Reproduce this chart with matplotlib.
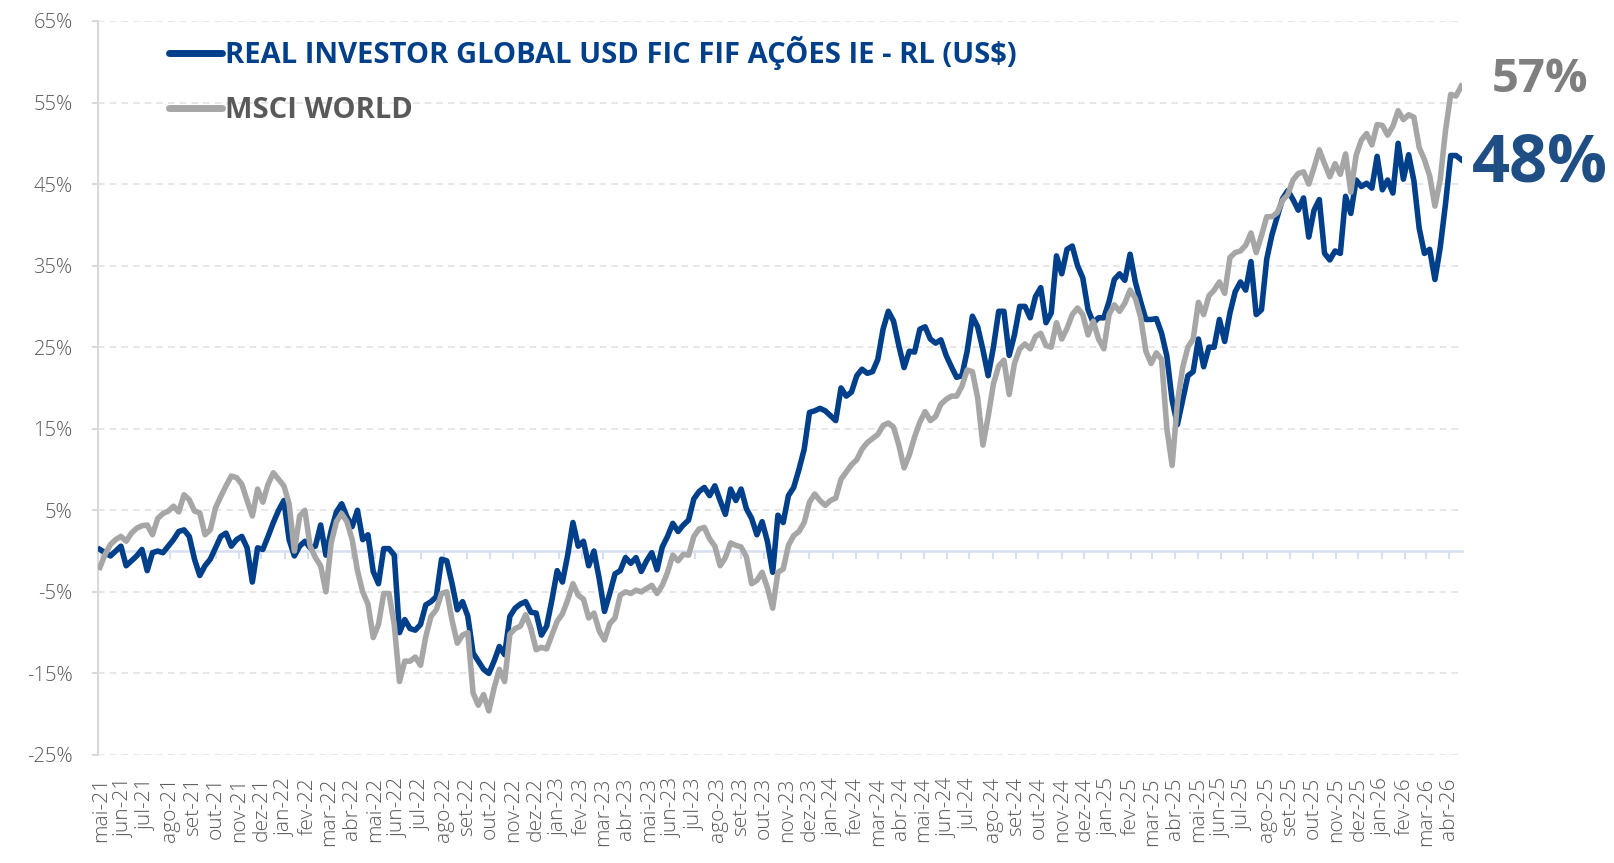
import numpy as np
import pandas as pd
import matplotlib
matplotlib.use("Agg")
import matplotlib.pyplot as plt
from matplotlib.lines import Line2D

# Rentabilidade acumulada (%), leituras semanais de 30/04/2021 a 17/04/2026
fundo = [
    0.2, -0.2, -0.6, 0.0, 0.6, -1.8, -1.2, -0.6, 0.2, -2.4,
    -0.2, 0.0, -0.2, 0.6, 1.4, 2.4, 2.6, 1.8, -1.0, -3.0,
    -1.8, -1.0, 0.4, 1.8, 2.2, 0.6, 1.4, 1.8, 0.4, -3.8,
    0.4, 0.2, 1.8, 3.5, 5.0, 6.2, 1.4, -0.6, 0.6, 1.2,
    0.4, 0.6, 3.2, -0.5, 2.5, 4.8, 5.8, 4.2, 3.0, 5.0,
    1.4, 2.0, -2.5, -4.0, 0.3, 0.3, -0.5, -10.0, -8.4, -9.5,
    -9.7, -9.0, -6.6, -6.2, -5.6, -1.0, -1.2, -4.0, -7.2, -6.2,
    -8.0, -12.5, -13.5, -14.5, -15.0, -13.5, -11.7, -12.7, -8.0, -7.0,
    -6.5, -6.2, -7.5, -7.6, -10.3, -9.2, -6.0, -2.4, -3.8, -0.5,
    3.5, 0.6, 1.2, -1.8, 0.0, -3.4, -7.4, -5.2, -2.8, -2.4,
    -0.8, -1.5, -0.8, -2.5, -1.2, -0.2, -2.3, 0.5, 1.8, 3.4,
    2.4, 3.2, 3.8, 6.4, 7.3, 7.8, 6.8, 8.0, 6.2, 4.5,
    7.6, 6.2, 7.6, 5.2, 4.0, 2.0, 3.6, 1.2, -2.6, 4.4,
    3.5, 6.8, 7.8, 10.0, 12.5, 17.0, 17.2, 17.5, 17.2, 16.6,
    16.0, 20.0, 19.0, 19.5, 21.5, 22.3, 21.8, 22.0, 23.5, 27.2,
    29.4, 28.2, 25.2, 22.5, 24.5, 24.4, 27.2, 27.5, 26.0, 25.5,
    25.9, 24.0, 22.6, 21.3, 21.5, 24.5, 28.8, 27.5, 24.7, 21.5,
    25.0, 29.4, 29.4, 24.0, 26.5, 30.0, 30.0, 28.6, 31.2, 32.3,
    28.0, 29.2, 36.2, 34.0, 37.0, 37.4, 35.0, 33.5, 29.6, 28.0,
    28.6, 28.6, 30.6, 33.3, 34.0, 33.2, 36.4, 33.0, 30.6, 28.4,
    28.4, 28.5, 26.7, 23.9, 18.5, 15.5, 18.5, 21.5, 22.0, 26.0,
    22.6, 25.0, 25.0, 28.4, 25.7, 29.2, 31.8, 33.0, 32.0, 35.5,
    29.0, 29.6, 35.8, 38.8, 41.0, 43.2, 44.2, 43.1, 41.8, 43.3,
    38.5, 41.8, 43.1, 36.5, 35.7, 36.8, 36.5, 43.5, 41.4, 45.5,
    44.7, 45.1, 44.5, 48.4, 44.3, 45.5, 43.9, 50.0, 45.6, 48.6,
    45.4, 39.6, 36.5, 37.0, 33.3, 37.2, 42.5, 48.5, 48.5, 48.0,
]
msci = [
    -2.0, -0.4, 0.8, 1.4, 1.8, 1.2, 2.2, 2.8, 3.1, 3.2,
    2.0, 4.0, 4.6, 4.9, 5.5, 4.8, 6.9, 6.3, 4.9, 4.7,
    2.0, 2.6, 5.3, 6.7, 8.0, 9.2, 9.0, 8.2, 6.2, 4.3,
    7.6, 6.0, 8.2, 9.6, 8.8, 8.0, 5.8, 0.0, 4.3, 5.0,
    0.6, -0.8, -1.8, -5.0, 1.0, 3.6, 4.6, 3.6, 1.4, -2.4,
    -5.0, -6.5, -10.6, -9.0, -5.2, -5.2, -9.0, -16.0, -13.5, -13.5,
    -13.0, -14.0, -10.5, -8.0, -7.2, -5.2, -5.0, -8.5, -11.3, -10.3,
    -10.0, -17.4, -18.9, -17.6, -19.6, -16.8, -14.5, -16.0, -10.2, -9.5,
    -9.2, -7.8, -9.5, -12.1, -11.8, -12.0, -10.3, -8.6, -7.7, -6.0,
    -4.0, -5.4, -5.9, -8.2, -7.6, -9.8, -10.9, -8.9, -8.2, -5.4,
    -5.0, -5.2, -4.8, -5.0, -4.6, -4.2, -5.2, -4.2, -2.6, -0.5,
    -1.2, -0.4, -0.5, 1.8, 2.7, 2.9, 1.5, 0.6, -1.8, -0.8,
    1.0, 0.7, 0.5, -0.7, -4.0, -3.6, -2.6, -4.5, -7.0, -2.6,
    -2.2, 0.7, 1.9, 2.4, 3.5, 6.0, 7.0, 6.2, 5.6, 6.2,
    6.5, 8.8, 9.7, 10.6, 11.2, 12.5, 13.3, 13.8, 14.3, 15.4,
    15.7, 15.2, 13.0, 10.2, 11.8, 14.0, 15.8, 17.1, 16.0, 16.5,
    18.0, 18.6, 19.0, 19.0, 20.2, 22.2, 22.0, 18.8, 13.0, 16.5,
    20.5, 22.7, 23.4, 19.2, 23.0, 24.8, 25.4, 24.8, 26.3, 26.7,
    25.2, 25.0, 28.0, 26.0, 27.3, 29.0, 29.8, 29.0, 26.5, 28.2,
    26.0, 24.8, 29.0, 30.2, 29.4, 30.4, 32.0, 31.0, 28.7, 24.5,
    23.0, 24.3, 23.5, 15.0, 10.5, 18.2, 22.5, 25.0, 26.0, 30.5,
    29.0, 31.3, 32.0, 33.0, 31.6, 36.0, 36.6, 36.8, 37.5, 39.0,
    36.6, 38.7, 41.0, 41.0, 41.5, 43.0, 43.7, 45.5, 46.3, 46.5,
    45.0, 47.0, 49.2, 47.5, 45.9, 47.5, 46.2, 48.7, 44.0, 48.5,
    50.4, 51.2, 49.8, 52.3, 52.2, 51.0, 52.1, 54.0, 52.9, 53.5,
    53.2, 49.5, 48.0, 46.0, 42.3, 45.5, 51.5, 56.0, 55.8, 57.0,
]
datas = pd.date_range("2021-04-30", periods=len(fundo), freq="7D")

nome_fundo = "REAL INVESTOR GLOBAL USD FIC FIF AÇÕES IE - RL (US$)"
nome_indice = "MSCI WORLD"
meses = ["jan", "fev", "mar", "abr", "mai", "jun", "jul", "ago", "set", "out", "nov", "dez"]
ticks_x = pd.date_range("2021-05-01", "2026-04-01", freq="MS")
rotulos_x = [f"{meses[d.month - 1]}-{d.strftime('%y')}" for d in ticks_x]
ticks_y = np.arange(-25, 66, 10)

azul = "#003f8a"
cinza = "#a6a6a6"
texto = "#595959"

fig = plt.figure(figsize=(16.14, 8.63), dpi=100)
ax = fig.add_axes([0.0605, 0.1252, 0.8453, 0.8505])

ax.plot(datas, fundo, color=azul, lw=4.0, solid_joinstyle="round", zorder=3)
ax.plot(datas, msci, color=cinza, lw=4.0, solid_joinstyle="round", zorder=4)

ax.set_xlim(pd.Timestamp("2021-04-27"), pd.Timestamp("2026-04-18"))
ax.set_ylim(-25, 65)
ax.set_yticks(ticks_y)
ax.set_yticklabels([f"{v}%" for v in ticks_y])
ax.yaxis.grid(True, color="#e3e3e3", linestyle=(0, (4, 3)), lw=1.2)
ax.set_axisbelow(True)

ax.set_xticks(ticks_x)
ax.set_xticklabels(rotulos_x, rotation=90, va="top", ha="center")
ax.tick_params(axis="x", length=0, pad=16, labelsize=15, labelcolor=texto)
ax.tick_params(axis="y", length=4, width=1.5, color="#d9d9d9", pad=14,
               labelsize=14.5, labelcolor=texto)
for lbl in ax.get_xticklabels() + ax.get_yticklabels():
    lbl.set_family("Open Sans")
    lbl.set_fontweight("light")

for s in ["top", "right", "bottom"]:
    ax.spines[s].set_visible(False)
ax.spines["left"].set_color("#d9d9d9")
ax.spines["left"].set_linewidth(1.5)

# linha do zero com marcas mensais
eixo0 = ax.secondary_xaxis(25 / 90)
eixo0.set_xticks(ticks_x)
eixo0.tick_params(length=6, width=1.5, color="#d6def2", labelbottom=False, labeltop=False)
for s in eixo0.spines.values():
    s.set_color("#d6def2")
    s.set_linewidth(1.8)

handles = [Line2D([], [], color=azul, lw=5, solid_capstyle="round"),
           Line2D([], [], color=cinza, lw=5, solid_capstyle="round")]
leg = ax.legend(handles, [nome_fundo, nome_indice], loc="upper left",
                bbox_to_anchor=(0.033, 1.015), frameon=False, handlelength=1.83,
                handletextpad=0.1, labelspacing=0.89,
                prop={"family": "Open Sans", "weight": "bold", "size": 21})
leg.get_texts()[0].set_color(azul)
leg.get_texts()[1].set_color(texto)

fig.text(0.954, 0.908, f"{msci[-1]:.0f}%", color="#7f7f7f", fontsize=34,
         fontweight="bold", family="Open Sans", ha="center", va="center")
fig.text(0.954, 0.81, f"{fundo[-1]:.0f}%", color="#1f4e84", fontsize=48,
         fontweight="bold", family="Open Sans", ha="center", va="center")

fig.savefig("out.png", dpi=100)
